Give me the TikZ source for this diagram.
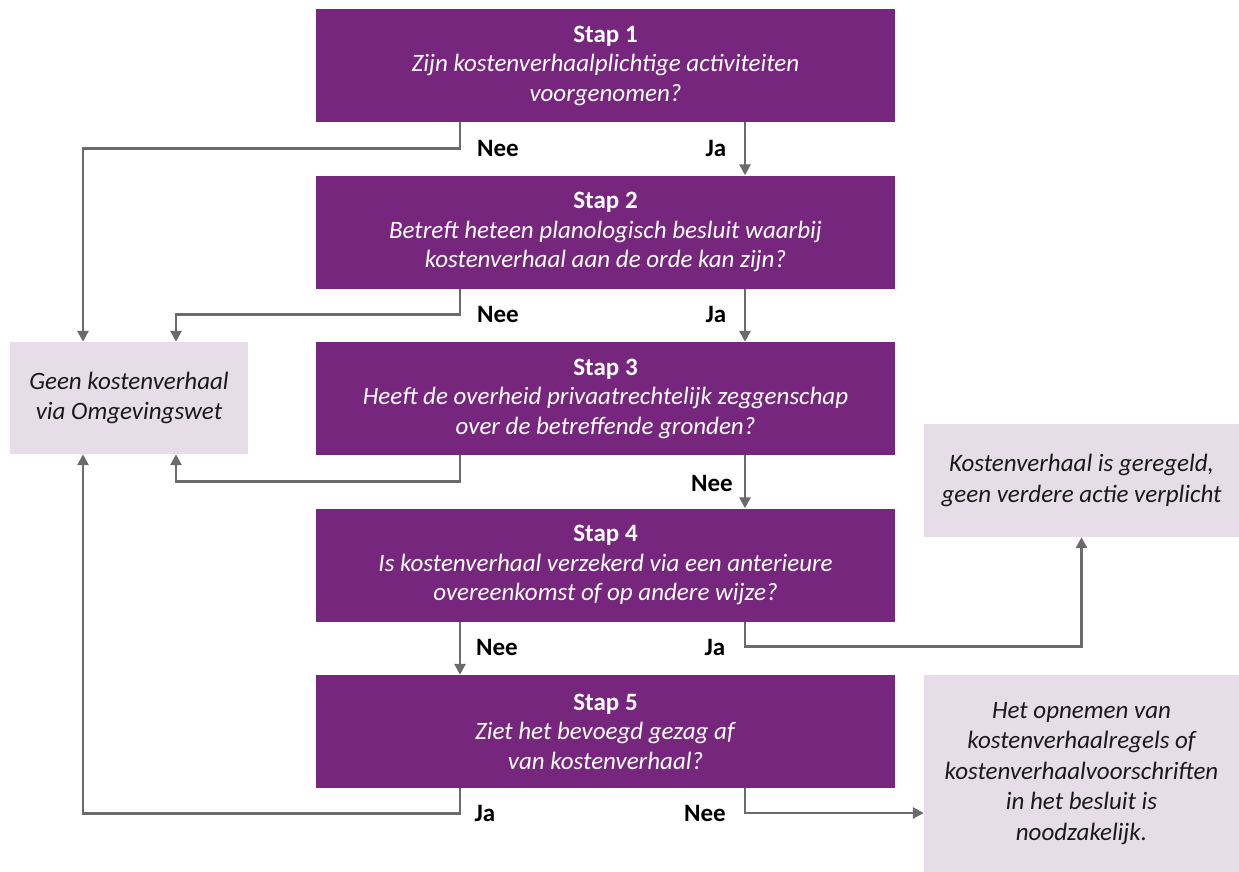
\documentclass[tikz,border=0pt]{standalone}
\usepackage{fontspec}
\setmainfont{Carlito}
\usepackage{tikz}
\usetikzlibrary{arrows.meta,positioning}
\definecolor{stappaars}{HTML}{77267E}
\definecolor{uitkomstlila}{HTML}{E7DDE9}
\definecolor{pijlgrijs}{HTML}{6B6B6B}

\begin{document}
\begin{tikzpicture}[x=1pt,y=-1pt,
  stap/.style={fill=stappaars, text=white, minimum width=579pt, minimum height=113pt,
    align=center, inner sep=0pt, font=\fontsize{25}{29.5}\selectfont},
  uitkomst/.style={fill=uitkomstlila, text=black!90, minimum width=315pt, minimum height=113pt,
    align=center, inner sep=0pt, font=\fontsize{25}{30.5}\selectfont\itshape},
  pijl/.style={draw=pijlgrijs, line width=2.8pt, -{Triangle[length=11pt,width=11pt]}},
  antw/.style={font=\fontsize{25}{28}\selectfont\bfseries}
]
  \useasboundingbox (0,0) rectangle (1239,872);

  % stappen
  \node[stap] (s1) at (605.5,65.5) {\textbf{Stap 1}\\ \textit{Zijn kostenverhaalplichtige activiteiten}\\ \textit{voorgenomen?}};
  \node[stap] (s2) at (605.5,232) {\textbf{Stap 2}\\ \textit{Betreft heteen planologisch besluit waarbij}\\ \textit{kostenverhaal aan de orde kan zijn?}};
  \node[stap] (s3) at (605.5,398.5) {\textbf{Stap 3}\\ \textit{Heeft de overheid privaatrechtelijk zeggenschap}\\ \textit{over de betreffende gronden?}};
  \node[stap] (s4) at (605.5,565) {\textbf{Stap 4}\\ \textit{Is kostenverhaal verzekerd via een anterieure}\\ \textit{overeenkomst of op andere wijze?}};
  \node[stap] (s5) at (605.5,731.5) {\textbf{Stap 5}\\ \textit{Ziet het bevoegd gezag af}\\ \textit{van kostenverhaal?}};

  % uitkomsten
  \node[uitkomst, minimum width=238pt, minimum height=112pt] (geen) at (129,398) {Geen kostenverhaal\\via Omgevingswet};
  \node[uitkomst] (geregeld) at (1081.5,480.5) {Kostenverhaal is geregeld,\\geen verdere actie verplicht};
  \node[uitkomst, minimum height=197pt] (opnemen) at (1081.5,773.5) {Het opnemen van\\kostenverhaalregels of\\kostenverhaalvoorschriften\\in het besluit is\\noodzakelijk.};

  \coordinate (cl) at (460,0);
  \coordinate (cr) at (745,0);

  % pijlen
  \draw[pijl] (s1.south -| cl) -- ++(0,26) -| ([xshift=-46pt]geen.north);
  \draw[pijl] (s1.south -| cr) -- (s2.north -| cr);
  \draw[pijl] (s2.south -| cl) -- ++(0,26) -| ([xshift=47pt]geen.north);
  \draw[pijl] (s2.south -| cr) -- (s3.north -| cr);
  \draw[pijl] (s3.south -| cl) -- ++(0,26) -| ([xshift=47pt]geen.south);
  \draw[pijl] (s3.south -| cr) -- (s4.north -| cr);
  \draw[pijl] (s4.south -| cl) -- (s5.north -| cl);
  \draw[pijl] (s4.south -| cr) -- ++(0,25) -| (geregeld.south);
  \draw[pijl] (s5.south -| cl) -- ++(0,25) -| ([xshift=-46pt]geen.south);
  \draw[pijl] (s5.south -| cr) |- ([yshift=-39.5pt]opnemen.west);

  % antwoorden
  \node[antw] (nee1) at (498,148) {Nee};
  \node[antw] (ja1) at (716,148) {Ja};
  \node[antw] (nee2) at (498,314) {Nee};
  \node[antw] (ja2) at (716,314) {Ja};
  \node[antw] (nee3) at (712,483) {Nee};
  \node[antw] (nee4) at (497,647) {Nee};
  \node[antw] (ja4) at (715,647) {Ja};
  \node[antw] (ja5) at (485,813) {Ja};
  \node[antw] (nee5) at (705,813) {Nee};
\end{tikzpicture}
\end{document}
